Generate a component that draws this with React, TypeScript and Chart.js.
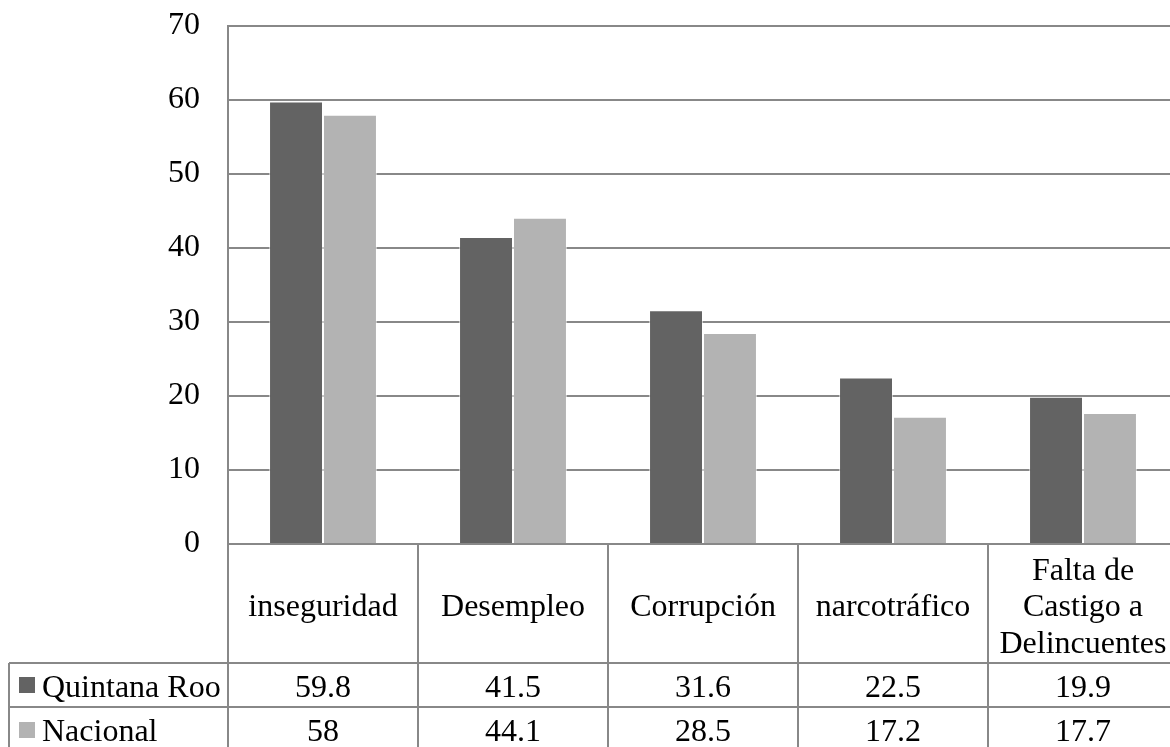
import React, { useEffect, useRef } from "react";
import { Chart, registerables } from "chart.js";

Chart.register(...registerables);

const categories: string[][] = [
  ["inseguridad"],
  ["Desempleo"],
  ["Corrupción"],
  ["narcotráfico"],
  ["Falta de", "Castigo a", "Delincuentes"],
];
const seriesNames = ["Quintana Roo", "Nacional"];
const quintanaRoo = [59.8, 41.5, 31.6, 22.5, 19.9];
const nacional = [58, 44.1, 28.5, 17.2, 17.7];
const yTickValues = [0, 10, 20, 30, 40, 50, 60, 70];

const seriesValues = [quintanaRoo, nacional];
const seriesColors = ["#636363", "#b3b3b3"];
const GRID = "#888888";
const FONT_FAMILY = "'Liberation Serif', 'Times New Roman', serif";
const FONT = `32px ${FONT_FAMILY}`;

const tablePlugin = {
  id: "dataTable",
  afterDraw(chart: any) {
    const ctx: CanvasRenderingContext2D = chart.ctx;
    const xs = chart.scales.x;
    const area = chart.chartArea;
    const n = categories.length;
    const cw = (area.right - area.left) / n;
    const top = area.bottom;
    const headerH = 119;
    const rowH = 44;
    const r1 = top + headerH;
    const r2 = r1 + rowH;
    const bottom = chart.height;
    const leftEdge = 9;

    ctx.save();
    ctx.strokeStyle = GRID;
    ctx.lineWidth = 2;
    ctx.beginPath();
    ctx.moveTo(leftEdge, r1);
    ctx.lineTo(area.right, r1);
    ctx.moveTo(leftEdge, r2);
    ctx.lineTo(area.right, r2);
    for (let i = 0; i <= n; i++) {
      const px = Math.round(area.left + i * cw);
      ctx.moveTo(px, top);
      ctx.lineTo(px, bottom);
    }
    ctx.moveTo(leftEdge, r1);
    ctx.lineTo(leftEdge, bottom);
    ctx.stroke();

    ctx.fillStyle = "#000";
    ctx.font = FONT;
    ctx.textAlign = "center";
    ctx.textBaseline = "alphabetic";
    const mid = top + headerH / 2;
    categories.forEach((lines, i) => {
      const cx = xs.getPixelForValue(i);
      lines.forEach((l, j) => {
        ctx.fillText(l, cx, mid + 12.5 + (j - (lines.length - 1) / 2) * 36.5);
      });
    });

    const rowTops = [r1, r2];
    seriesValues.forEach((vals, s) => {
      const rt = rowTops[s];
      vals.forEach((v, i) => {
        const cx = xs.getPixelForValue(i);
        ctx.fillText(String(v), cx, rt + 34);
      });
      ctx.fillStyle = seriesColors[s];
      ctx.fillRect(19, rt + 14 + s, 16, 16);
      ctx.fillStyle = "#000";
      ctx.textAlign = "left";
      ctx.fillText(seriesNames[s], 42, rt + 34);
      ctx.textAlign = "center";
    });
    ctx.restore();
  },
};

export default function App() {
  const ref = useRef<HTMLCanvasElement | null>(null);

  useEffect(() => {
    if (!ref.current) return;
    const chart = new Chart(ref.current, {
      type: "bar",
      data: {
        labels: categories.map((c) => c.join(" ")),
        datasets: seriesNames.map((name, s) => ({
          label: name,
          data: seriesValues[s],
          backgroundColor: seriesColors[s],
          borderColor: "rgba(255,255,255,0.55)",
          borderWidth: 1,
          barPercentage: 1,
          categoryPercentage: 0.568,
        })),
      },
      options: {
        animation: false,
        responsive: false,
        devicePixelRatio: 1,
        layout: { padding: { top: 26, right: 2, left: 0, bottom: 0 } },
        plugins: {
          legend: { display: false },
          tooltip: { enabled: false },
          title: { display: false },
        },
        scales: {
          x: {
            grid: { display: false },
            border: { display: false },
            ticks: { display: false },
            afterFit: (scale: any) => {
              scale.height = 203;
            },
          },
          y: {
            min: 0,
            max: 70,
            afterBuildTicks: (scale: any) => {
              scale.ticks = yTickValues.map((v) => ({ value: v }));
            },
            grid: {
              color: GRID,
              lineWidth: 2,
              drawTicks: true,
              tickLength: 28,
              tickColor: "rgba(0,0,0,0)",
            },
            border: { display: true, color: GRID, width: 2 },
            ticks: {
              color: "#000",
              padding: 0,
              font: { family: FONT_FAMILY, size: 32 },
            },
            afterFit: (scale: any) => {
              scale.width = 228;
            },
          },
        },
      },
      plugins: [tablePlugin],
    });
    return () => chart.destroy();
  }, []);

  return (
    <div
      style={{
        position: "absolute",
        left: 0,
        top: 0,
        width: 1170,
        height: 747,
        overflow: "hidden",
        background: "#fff",
      }}
    >
      <canvas ref={ref} width={1180} height={747} style={{ display: "block" }} />
    </div>
  );
}
